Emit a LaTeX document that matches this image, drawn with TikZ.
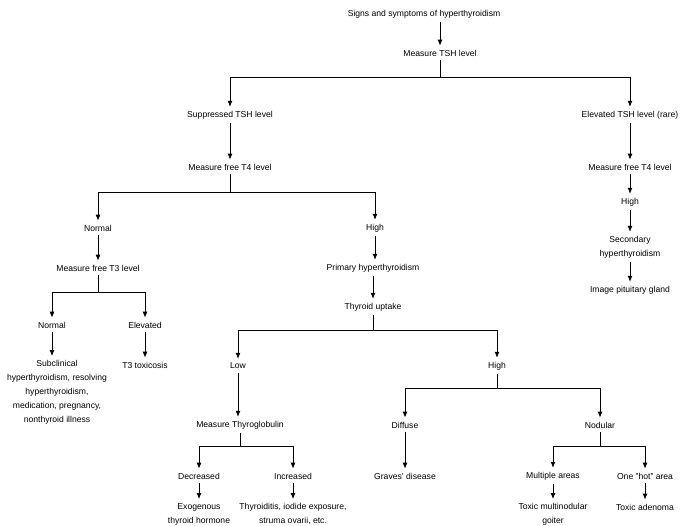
\documentclass[tikz,border=0pt]{standalone}
\usepackage{fontspec}
\setmainfont{Liberation Sans}
\usetikzlibrary{arrows.meta}
\begin{document}
\begin{tikzpicture}[x=1pt,y=-1pt,
  every node/.style={font=\fontsize{8.6}{14}\selectfont,align=center,inner sep=4pt},
  ar/.style={-{Latex[length=6pt,width=5pt]},line width=0.8pt},
  ln/.style={line width=0.8pt}]
\useasboundingbox (0,0) rectangle (700,525);
\node (sig) at (424,14) {Signs and symptoms of hyperthyroidism};
\node (tsh) at (440,53) {Measure TSH level};
\node (sup) at (230,115) {Suppressed TSH level};
\node (t4a) at (230,167) {Measure free T4 level};
\node (nor) at (98,228) {Normal};
\node (t3) at (98,268) {Measure free T3 level};
\node (nor2) at (52,325) {Normal};
\node (ele) at (145,325) {Elevated};
\node[anchor=north] (sub) at (57,356) {Subclinical\\hyperthyroidism, resolving\\hyperthyroidism,\\medication, pregnancy,\\nonthyroid illness};
\node (t3t) at (145,365) {T3 toxicosis};
\node (hi) at (375,228) {High};
\node (pri) at (373,268) {Primary hyperthyroidism};
\node (upt) at (373,307) {Thyroid uptake};
\node (low) at (238,366) {Low};
\node (tg) at (240,425) {Measure Thyroglobulin};
\node (dec) at (199,476) {Decreased};
\node (inc) at (293,476) {Increased};
\node[anchor=north] (exo) at (199,499) {Exogenous\\thyroid hormone};
\node[anchor=north] (thy) at (293,499) {Thyroiditis, iodide exposure,\\struma ovarii, etc.};
\node (hi2) at (497,366) {High};
\node (dif) at (405,425) {Diffuse};
\node (gra) at (405,476) {Graves' disease};
\node (nod) at (600,425) {Nodular};
\node (mul) at (553,476) {Multiple areas};
\node (one) at (645,476) {One "hot" area};
\node[anchor=north] (tmg) at (553,499) {Toxic multinodular\\goiter};
\node (tad) at (645,507) {Toxic adenoma};
\node (ele2) at (630,115) {Elevated TSH level (rare)};
\node (t4b) at (630,167) {Measure free T4 level};
\node (hi3) at (630,202) {High};
\node (sec) at (630,247) {Secondary\\hyperthyroidism};
\node (img) at (630,290) {Image pituitary gland};
% connectors
\draw[ar] (sig.south-|tsh) -- (tsh);
\coordinate (j1) at (440,77);
\draw[ln] (tsh) -- (j1);
\draw[ar] (j1) -| (sup);
\draw[ar] (j1) -| (ele2);
\draw[ar] (sup) -- (t4a);
\coordinate (j2) at (230,192);
\draw[ln] (t4a) -- (j2);
\draw[ar] (j2) -| (nor);
\draw[ar] (j2) -| (hi);
\draw[ar] (nor) -- (t3);
\coordinate (j3) at (98,292);
\draw[ln] (t3) -- (j3);
\draw[ar] (j3) -| (nor2);
\draw[ar] (j3) -| (ele);
\draw[ar] (nor2) -- (nor2|-sub.north);
\draw[ar] (ele) -- (t3t);
\draw[ar] (hi) -- (hi|-pri.north);
\draw[ar] (pri) -- (upt);
\coordinate (j4) at (373,330);
\draw[ln] (upt) -- (j4);
\draw[ar] (j4) -| (low);
\draw[ar] (j4) -| (hi2);
\draw[ar] (low) -- (low|-tg.north);
\coordinate (j5) at (240,446);
\draw[ln] (tg) -- (j5);
\draw[ar] (j5) -| (dec);
\draw[ar] (j5) -| (inc);
\draw[ar] (dec) -- (exo);
\draw[ar] (inc) -- (thy);
\coordinate (j6) at (497,388);
\draw[ln] (hi2) -- (j6);
\draw[ar] (j6) -| (dif);
\draw[ar] (j6) -| (nod);
\draw[ar] (dif) -- (gra);
\coordinate (j7) at (600,446);
\draw[ln] (nod) -- (j7);
\draw[ar] (j7) -| (mul);
\draw[ar] (j7) -| (one);
\draw[ar] (mul) -- (tmg);
\draw[ar] (one) -- (tad);
\draw[ar] (ele2) -- (t4b);
\draw[ar] (t4b) -- (hi3);
\draw[ar] (hi3) -- (sec);
\draw[ar] (sec) -- (img);
\end{tikzpicture}
\end{document}
